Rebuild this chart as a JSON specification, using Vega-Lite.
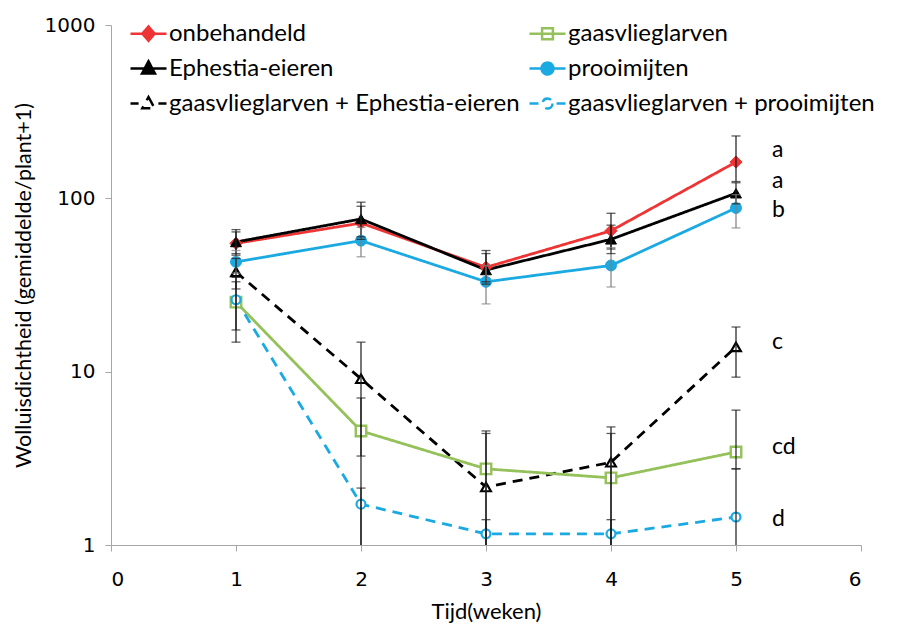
{
  "$schema": "https://vega.github.io/schema/vega-lite/v6.json",
  "width": 750,
  "height": 520,
  "autosize": {"type": "none"},
  "padding": {"left": 111, "top": 25, "right": 42, "bottom": 81},
  "background": "white",
  "config": {"view": {"stroke": null}, "font": "Lato"},
  "data": {
    "values": [
      {"serie": "onbehandeld", "week": 1, "waarde": 55, "laag": 47, "hoog": 64},
      {"serie": "onbehandeld", "week": 2, "waarde": 72, "laag": 58, "hoog": 90},
      {"serie": "onbehandeld", "week": 3, "waarde": 40, "laag": 33, "hoog": 50},
      {"serie": "onbehandeld", "week": 4, "waarde": 65, "laag": 51, "hoog": 82},
      {"serie": "onbehandeld", "week": 5, "waarde": 162, "laag": 125, "hoog": 229, "groep": "a"},
      {"serie": "Ephestia-eieren", "week": 1, "waarde": 56, "laag": 48, "hoog": 66},
      {"serie": "Ephestia-eieren", "week": 2, "waarde": 76, "laag": 60, "hoog": 95},
      {"serie": "Ephestia-eieren", "week": 3, "waarde": 38.6, "laag": 32, "hoog": 48},
      {"serie": "Ephestia-eieren", "week": 4, "waarde": 58, "laag": 48, "hoog": 70},
      {"serie": "Ephestia-eieren", "week": 5, "waarde": 107, "laag": 93, "hoog": 123, "groep": "a"},
      {"serie": "prooimijten", "week": 1, "waarde": 43, "laag": 37, "hoog": 50},
      {"serie": "prooimijten", "week": 2, "waarde": 57, "laag": 46, "hoog": 68},
      {"serie": "prooimijten", "week": 3, "waarde": 33, "laag": 24.6, "hoog": 41},
      {"serie": "prooimijten", "week": 4, "waarde": 41, "laag": 30.8, "hoog": 52},
      {"serie": "prooimijten", "week": 5, "waarde": 88, "laag": 67.5, "hoog": 105, "groep": "b"},
      {"serie": "gaasvlieglarven + Ephestia-eieren", "week": 1, "waarde": 37.6, "laag": 30, "hoog": 45},
      {"serie": "gaasvlieglarven + Ephestia-eieren", "week": 2, "waarde": 9.1, "laag": 1, "hoog": 14.8},
      {"serie": "gaasvlieglarven + Ephestia-eieren", "week": 3, "waarde": 2.16, "laag": 1, "hoog": 4.55},
      {"serie": "gaasvlieglarven + Ephestia-eieren", "week": 4, "waarde": 3.0, "laag": 1, "hoog": 4.8},
      {"serie": "gaasvlieglarven + Ephestia-eieren", "week": 5, "waarde": 13.9, "laag": 9.3, "hoog": 18.1, "groep": "c"},
      {"serie": "gaasvlieglarven", "week": 1, "waarde": 25.2, "laag": 17.4, "hoog": 33},
      {"serie": "gaasvlieglarven", "week": 2, "waarde": 4.55, "laag": 3.26, "hoog": 7.05},
      {"serie": "gaasvlieglarven", "week": 3, "waarde": 2.75, "laag": 1, "hoog": 4.4},
      {"serie": "gaasvlieglarven", "week": 4, "waarde": 2.44, "laag": 1, "hoog": 4.4},
      {"serie": "gaasvlieglarven", "week": 5, "waarde": 3.44, "laag": 2.75, "hoog": 6.0, "groep": "cd"},
      {"serie": "gaasvlieglarven + prooimijten", "week": 1, "waarde": 26, "laag": 14.8, "hoog": 35},
      {"serie": "gaasvlieglarven + prooimijten", "week": 2, "waarde": 1.72, "laag": 1, "hoog": 2.13},
      {"serie": "gaasvlieglarven + prooimijten", "week": 3, "waarde": 1.16, "laag": 1, "hoog": 1.4},
      {"serie": "gaasvlieglarven + prooimijten", "week": 4, "waarde": 1.16, "laag": 1, "hoog": 1.4},
      {"serie": "gaasvlieglarven + prooimijten", "week": 5, "waarde": 1.45, "laag": 1, "hoog": 2.75, "groep": "d"}
    ]
  },
  "encoding": {
    "x": {
      "field": "week",
      "type": "quantitative",
      "scale": {"domain": [0, 6], "nice": false, "zero": false},
      "axis": {
        "title": "Tijd(weken)",
        "values": [0, 1, 2, 3, 4, 5, 6],
        "grid": false,
        "domainColor": "#a6a6a6",
        "tickColor": "#a6a6a6",
        "tickSize": 6,
        "labelFont": "DejaVu Sans",
        "labelFontSize": 20,
        "labelColor": "#000000",
        "labelPadding": 18,
        "titleFont": "Lato",
        "titleFontSize": 22,
        "titleFontWeight": "normal",
        "titleColor": "#000000",
        "titlePadding": 12
      }
    }
  },
  "layer": [
    {
      "mark": {"type": "line", "strokeWidth": 2.8},
      "encoding": {
        "y": {
          "field": "waarde",
          "type": "quantitative",
          "scale": {"type": "log", "domain": [1, 1000], "nice": false},
          "axis": {
            "title": "Wolluisdichtheid (gemiddelde/plant+1)",
            "values": [1, 10, 100, 1000],
            "format": "d",
            "grid": false,
            "domainColor": "#a6a6a6",
            "tickColor": "#a6a6a6",
            "tickSize": 6,
            "labelFont": "DejaVu Sans",
            "labelFontSize": 20,
            "labelColor": "#000000",
            "labelPadding": 10,
            "titleFont": "Lato",
            "titleFontSize": 21.5,
            "titleFontWeight": "normal",
            "titleColor": "#000000",
            "titlePadding": 9
          }
        },
        "detail": {"field": "serie"},
        "stroke": {
          "field": "serie",
          "type": "nominal",
          "scale": {
            "domain": ["onbehandeld", "Ephestia-eieren", "gaasvlieglarven + Ephestia-eieren", "gaasvlieglarven", "prooimijten", "gaasvlieglarven + prooimijten"],
            "range": ["#ee3434", "#000000", "#000000", "#94c15a", "#1ba9e2", "#1ba9e2"]
          }
        },
        "strokeDash": {
          "field": "serie",
          "type": "nominal",
          "scale": {
            "domain": ["onbehandeld", "Ephestia-eieren", "gaasvlieglarven + Ephestia-eieren", "gaasvlieglarven", "prooimijten", "gaasvlieglarven + prooimijten"],
            "range": [[1, 0], [1, 0], [10, 7], [1, 0], [1, 0], [10, 7]]
          },
          "legend": null
        }
      }
    },
    {
      "transform": [{"filter": "datum.serie === 'onbehandeld'"}],
      "mark": {"type": "point", "shape": "diamond", "filled": true, "size": 150, "strokeWidth": 1, "opacity": 1},
      "encoding": {
        "y": {"field": "waarde", "type": "quantitative"},
        "stroke": {"field": "serie", "type": "nominal"},
        "fill": {
          "field": "serie",
          "type": "nominal",
          "scale": {
            "domain": ["onbehandeld", "Ephestia-eieren", "gaasvlieglarven + Ephestia-eieren", "gaasvlieglarven", "prooimijten", "gaasvlieglarven + prooimijten"],
            "range": ["#ee3434", "#000000", "#ffffff", "#ffffff", "#1ba9e2", "#ffffff"]
          }
        }
      }
    },
    {
      "transform": [{"filter": "datum.serie === 'gaasvlieglarven'"}],
      "mark": {"type": "point", "shape": "square", "filled": true, "size": 110, "strokeWidth": 2.4, "opacity": 1},
      "encoding": {
        "y": {"field": "waarde", "type": "quantitative"},
        "stroke": {"field": "serie", "type": "nominal"},
        "fill": {"field": "serie", "type": "nominal"}
      }
    },
    {
      "transform": [{"filter": "datum.serie === 'Ephestia-eieren'"}],
      "mark": {"type": "point", "shape": "triangle-up", "filled": true, "size": 120, "strokeWidth": 1, "opacity": 1},
      "encoding": {
        "y": {"field": "waarde", "type": "quantitative"},
        "stroke": {"field": "serie", "type": "nominal"},
        "fill": {"field": "serie", "type": "nominal"}
      }
    },
    {
      "transform": [{"filter": "datum.serie === 'gaasvlieglarven + Ephestia-eieren'"}],
      "mark": {"type": "point", "shape": "triangle-up", "filled": true, "size": 95, "strokeWidth": 2.2, "opacity": 1},
      "encoding": {
        "y": {"field": "waarde", "type": "quantitative"},
        "stroke": {"field": "serie", "type": "nominal"},
        "fill": {"field": "serie", "type": "nominal"}
      }
    },
    {
      "transform": [{"filter": "datum.serie === 'prooimijten'"}],
      "mark": {"type": "point", "shape": "circle", "filled": true, "size": 120, "strokeWidth": 1, "opacity": 1},
      "encoding": {
        "y": {"field": "waarde", "type": "quantitative"},
        "stroke": {"field": "serie", "type": "nominal"},
        "fill": {"field": "serie", "type": "nominal"}
      }
    },
    {
      "transform": [{"filter": "datum.serie === 'gaasvlieglarven + prooimijten'"}],
      "mark": {"type": "point", "shape": "circle", "filled": true, "size": 80, "strokeWidth": 2.2, "opacity": 1},
      "encoding": {
        "y": {"field": "waarde", "type": "quantitative"},
        "stroke": {"field": "serie", "type": "nominal"},
        "fill": {"field": "serie", "type": "nominal"}
      }
    },
    {
      "mark": {"type": "rule", "strokeWidth": 1.2},
      "encoding": {
        "y": {"field": "laag", "type": "quantitative"},
        "y2": {"field": "hoog"},
        "color": {
          "field": "serie",
          "type": "nominal",
          "scale": {
            "domain": ["onbehandeld", "Ephestia-eieren", "gaasvlieglarven + Ephestia-eieren", "gaasvlieglarven", "prooimijten", "gaasvlieglarven + prooimijten"],
            "range": ["#1a1a1a", "#1a1a1a", "#1a1a1a", "#1a1a1a", "#7f7f7f", "#1a1a1a"]
          },
          "legend": null
        }
      }
    },
    {
      "mark": {"type": "tick", "orient": "horizontal", "size": 9, "thickness": 1.3},
      "encoding": {
        "y": {"field": "hoog", "type": "quantitative"},
        "color": {"field": "serie", "type": "nominal", "legend": null}
      }
    },
    {
      "transform": [{"filter": "datum.laag > 1"}],
      "mark": {"type": "tick", "orient": "horizontal", "size": 9, "thickness": 1.3},
      "encoding": {
        "y": {"field": "laag", "type": "quantitative"},
        "color": {"field": "serie", "type": "nominal", "legend": null}
      }
    },
    {
      "transform": [{"filter": "datum.groep === 'a'"}],
      "mark": {"type": "text", "align": "left", "baseline": "middle", "dx": 36, "dy": -12, "font": "Lato", "fontSize": 23, "color": "#000000"},
      "encoding": {
        "y": {"field": "waarde", "type": "quantitative"},
        "text": {"field": "groep"}
      }
    },
    {
      "transform": [{"filter": "datum.groep === 'b' || datum.groep === 'd'"}],
      "mark": {"type": "text", "align": "left", "baseline": "middle", "dx": 36, "dy": 2, "font": "Lato", "fontSize": 23, "color": "#000000"},
      "encoding": {
        "y": {"field": "waarde", "type": "quantitative"},
        "text": {"field": "groep"}
      }
    },
    {
      "transform": [{"filter": "datum.groep === 'c' || datum.groep === 'cd'"}],
      "mark": {"type": "text", "align": "left", "baseline": "middle", "dx": 36, "dy": -5, "font": "Lato", "fontSize": 23, "color": "#000000"},
      "encoding": {
        "y": {"field": "waarde", "type": "quantitative"},
        "text": {"field": "groep"}
      }
    },
    {
      "transform": [{"filter": "false"}],
      "mark": {"type": "point", "filled": true, "strokeWidth": 2.5, "opacity": 1},
      "encoding": {
        "y": {"field": "waarde", "type": "quantitative"},
        "stroke": {
          "field": "serie",
          "type": "nominal",
          "legend": {
            "orient": "none",
            "legendX": 18,
            "legendY": -11,
            "columns": 2,
            "title": null,
            "symbolSize": 1296,
            "symbolStrokeWidth": 2.5,
            "symbolOpacity": 1,
            "labelFont": "Lato",
            "labelFontSize": 24,
            "labelColor": "#000000",
            "labelOffset": 1,
            "labelLimit": 0,
            "columnPadding": 4,
            "rowPadding": 3
          }
        },
        "fill": {"field": "serie", "type": "nominal"},
        "shape": {
          "field": "serie",
          "type": "nominal",
          "scale": {
            "domain": ["onbehandeld", "Ephestia-eieren", "gaasvlieglarven + Ephestia-eieren", "gaasvlieglarven", "prooimijten", "gaasvlieglarven + prooimijten"],
            "range": [
              "M-1,0H1M0,-0.4L0.34,0L0,0.4L-0.34,0Z",
              "M-1,0H1M0,-0.4L0.36,0.28L-0.36,0.28Z",
              "M-1,0H-0.55M0.55,0H1M0,-0.36L0.34,0.26L-0.34,0.26Z",
              "M-1,0H1M-0.3,-0.3H0.3V0.3H-0.3Z",
              "M-1,0H1M0.33,0A0.33,0.33 0 1,1 -0.33,0A0.33,0.33 0 1,1 0.33,0Z",
              "M-1,0H-0.5M0.5,0H1M0.28,0A0.28,0.28 0 1,1 -0.28,0A0.28,0.28 0 1,1 0.28,0Z"
            ]
          }
        }
      }
    }
  ]
}
